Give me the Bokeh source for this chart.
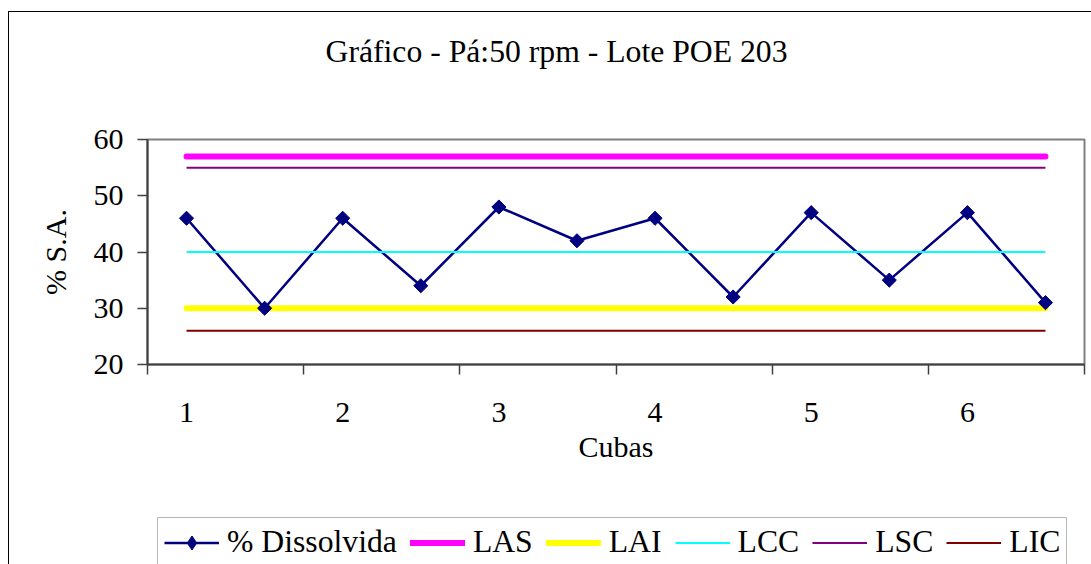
import numpy as np
from bokeh.plotting import figure
from bokeh.layouts import column
from bokeh.models import (FixedTicker, Range1d, Legend, LegendItem, Title,
                          InlineStyleSheet)
from bokeh.embed import file_html
from bokeh.resources import INLINE

# ---- data ----
cuba_x = [1, 2, 3, 4, 5, 6, 7, 8, 9, 10, 11, 12]
dissolvida = [46, 30, 46, 34, 48, 42, 46, 32, 47, 35, 47, 31]
las = [57] * 12
lai = [30] * 12
lcc = [40] * 12
lsc = [55] * 12
lic = [26] * 12
label_pos = [1, 3, 5, 7, 9, 11]
tick_labels = ["1", "2", "3", "4", "5", "6"]
group_edges = [0.5, 2.5, 4.5, 6.5, 8.5, 10.5, 12.5]
y_ticks = [20, 30, 40, 50, 60]
series_names = ["% Dissolvida", "LAS", "LAI", "LCC", "LSC", "LIC"]

FONT = "Liberation Serif"
NAVY, MAGENTA, YELLOW, CYAN, PURPLE, DARKRED = (
    "#000080", "#FF00FF", "#FFFF00", "#00FFFF", "#800080", "#800000")

p = figure(width=1091, height=500, output_backend="svg", toolbar_location=None,
           x_range=Range1d(0.5, 12.5), y_range=Range1d(20, 60),
           min_border_left=147, min_border_right=7, min_border_top=139,
           min_border_bottom=136)
p.background_fill_color = "white"
p.border_fill_color = "white"
p.outline_line_color = "#808080"
p.outline_line_width = 2
p.xgrid.visible = False
p.ygrid.visible = False

# spacer between title and plot area
p.add_layout(Title(text=" ", text_font=FONT, text_font_size="31.7px",
                   standoff=29), "above")
# title
p.title.text = "Gráfico - Pá:50 rpm - Lote POE 203"
p.title.text_font = FONT
p.title.text_font_size = "31.7px"
p.title.text_font_style = "normal"
p.title.text_color = "black"
p.title.align = "left"
p.title.offset = 178
p.title.standoff = 10

# y axis
ya = p.yaxis[0]
ya.ticker = FixedTicker(ticks=y_ticks)
ya.axis_line_color = "#404040"
ya.axis_line_width = 2
ya.major_tick_line_color = "#404040"
ya.major_tick_line_width = 1.5
ya.major_tick_out = 10
ya.major_tick_in = 0
ya.minor_tick_line_color = None
ya.major_label_standoff = 14
ya.major_label_text_font = FONT
ya.major_label_text_font_size = "30px"
ya.major_label_text_color = "black"
ya.axis_label = "% S.A."
ya.axis_label_text_font = FONT
ya.axis_label_text_font_size = "30px"
ya.axis_label_text_font_style = "normal"
ya.axis_label_text_color = "black"
ya.axis_label_standoff = 19

# x axis
xa = p.xaxis[0]
xa.ticker = FixedTicker(ticks=label_pos, minor_ticks=group_edges)
xa.major_label_overrides = {pos: lab for pos, lab in zip(label_pos, tick_labels)}
xa.axis_line_color = "#404040"
xa.axis_line_width = 2
xa.major_tick_out = 0
xa.major_tick_in = 0
xa.major_tick_line_color = None
xa.minor_tick_line_color = "#404040"
xa.minor_tick_line_width = 1.5
xa.minor_tick_out = 10
xa.minor_tick_in = 0
xa.major_label_standoff = 28
xa.major_label_text_font = FONT
xa.major_label_text_font_size = "30px"
xa.major_label_text_color = "black"
xa.axis_label = "Cubas"
xa.axis_label_text_font = FONT
xa.axis_label_text_font_size = "30px"
xa.axis_label_text_font_style = "normal"
xa.axis_label_text_color = "black"
xa.axis_label_standoff = 5

# series
p.line(cuba_x, dissolvida, line_color=NAVY, line_width=2.5)
p.line(cuba_x, las, line_color=MAGENTA, line_width=6, line_cap="round")
p.line(cuba_x, lai, line_color=YELLOW, line_width=6, line_cap="round")
p.line(cuba_x, lcc, line_color=CYAN, line_width=2)
p.line(cuba_x, lsc, line_color=PURPLE, line_width=2)
p.line(cuba_x, lic, line_color=DARKRED, line_width=2)
p.scatter(cuba_x, dissolvida, marker="square", angle=np.pi / 4, size=10,
          fill_color=NAVY, line_color=NAVY)

# legend strip below the chart (same series, drawn out of this strip's view;
# only their legend swatches show)
q = figure(width=1091, height=64, output_backend="svg", toolbar_location=None,
           x_axis_type=None, y_axis_type=None, min_border=0,
           x_range=Range1d(100, 101), y_range=Range1d(100, 101))
q.outline_line_color = None
q.background_fill_color = "white"
q.border_fill_color = "white"
k_line = q.line(cuba_x, dissolvida, line_color=NAVY, line_width=2.5)
k_pts = q.scatter(cuba_x, dissolvida, marker="diamond", size=10,
                  fill_color=NAVY, line_color=NAVY)
k_las = q.line(cuba_x, las, line_color=MAGENTA, line_width=6, line_cap="round")
k_lai = q.line(cuba_x, lai, line_color=YELLOW, line_width=6, line_cap="round")
k_lcc = q.line(cuba_x, lcc, line_color=CYAN, line_width=2)
k_lsc = q.line(cuba_x, lsc, line_color=PURPLE, line_width=2)
k_lic = q.line(cuba_x, lic, line_color=DARKRED, line_width=2)

legend = Legend(items=[
    LegendItem(label=series_names[0], renderers=[k_line, k_pts]),
    LegendItem(label=series_names[1], renderers=[k_las]),
    LegendItem(label=series_names[2], renderers=[k_lai]),
    LegendItem(label=series_names[3], renderers=[k_lcc]),
    LegendItem(label=series_names[4], renderers=[k_lsc]),
    LegendItem(label=series_names[5], renderers=[k_lic]),
], orientation="horizontal", location=(10, -3))
legend.label_text_font = FONT
legend.label_text_font_size = "31.7px"
legend.label_text_color = "black"
legend.glyph_width = 55
legend.glyph_height = 35
legend.label_standoff = 8
legend.spacing = 13
legend.padding = 6
legend.border_line_color = "#707070"
legend.border_line_width = 1.5
legend.background_fill_color = "white"
legend.background_fill_alpha = 1
q.add_layout(legend)

# outer chart border (left and top edges; right/bottom lie outside the window)
for fig, css in ((p, "left: 8px; top: 11px; right: 0; bottom: 0; "
                     "border-left: 1.5px solid black; border-top: 1.5px solid black;"),
                 (q, "left: 8px; top: 0; right: 0; bottom: 0; "
                     "border-left: 1.5px solid black;")):
    fig.styles = {"overflow": "hidden", "position": "relative"}
    fig.stylesheets = [InlineStyleSheet(css=(
        ":host::after { content: ''; position: absolute; %s "
        "pointer-events: none; }" % css))]

layout = column(p, q, spacing=0)
open("out.html", "w").write(file_html(layout, INLINE))
